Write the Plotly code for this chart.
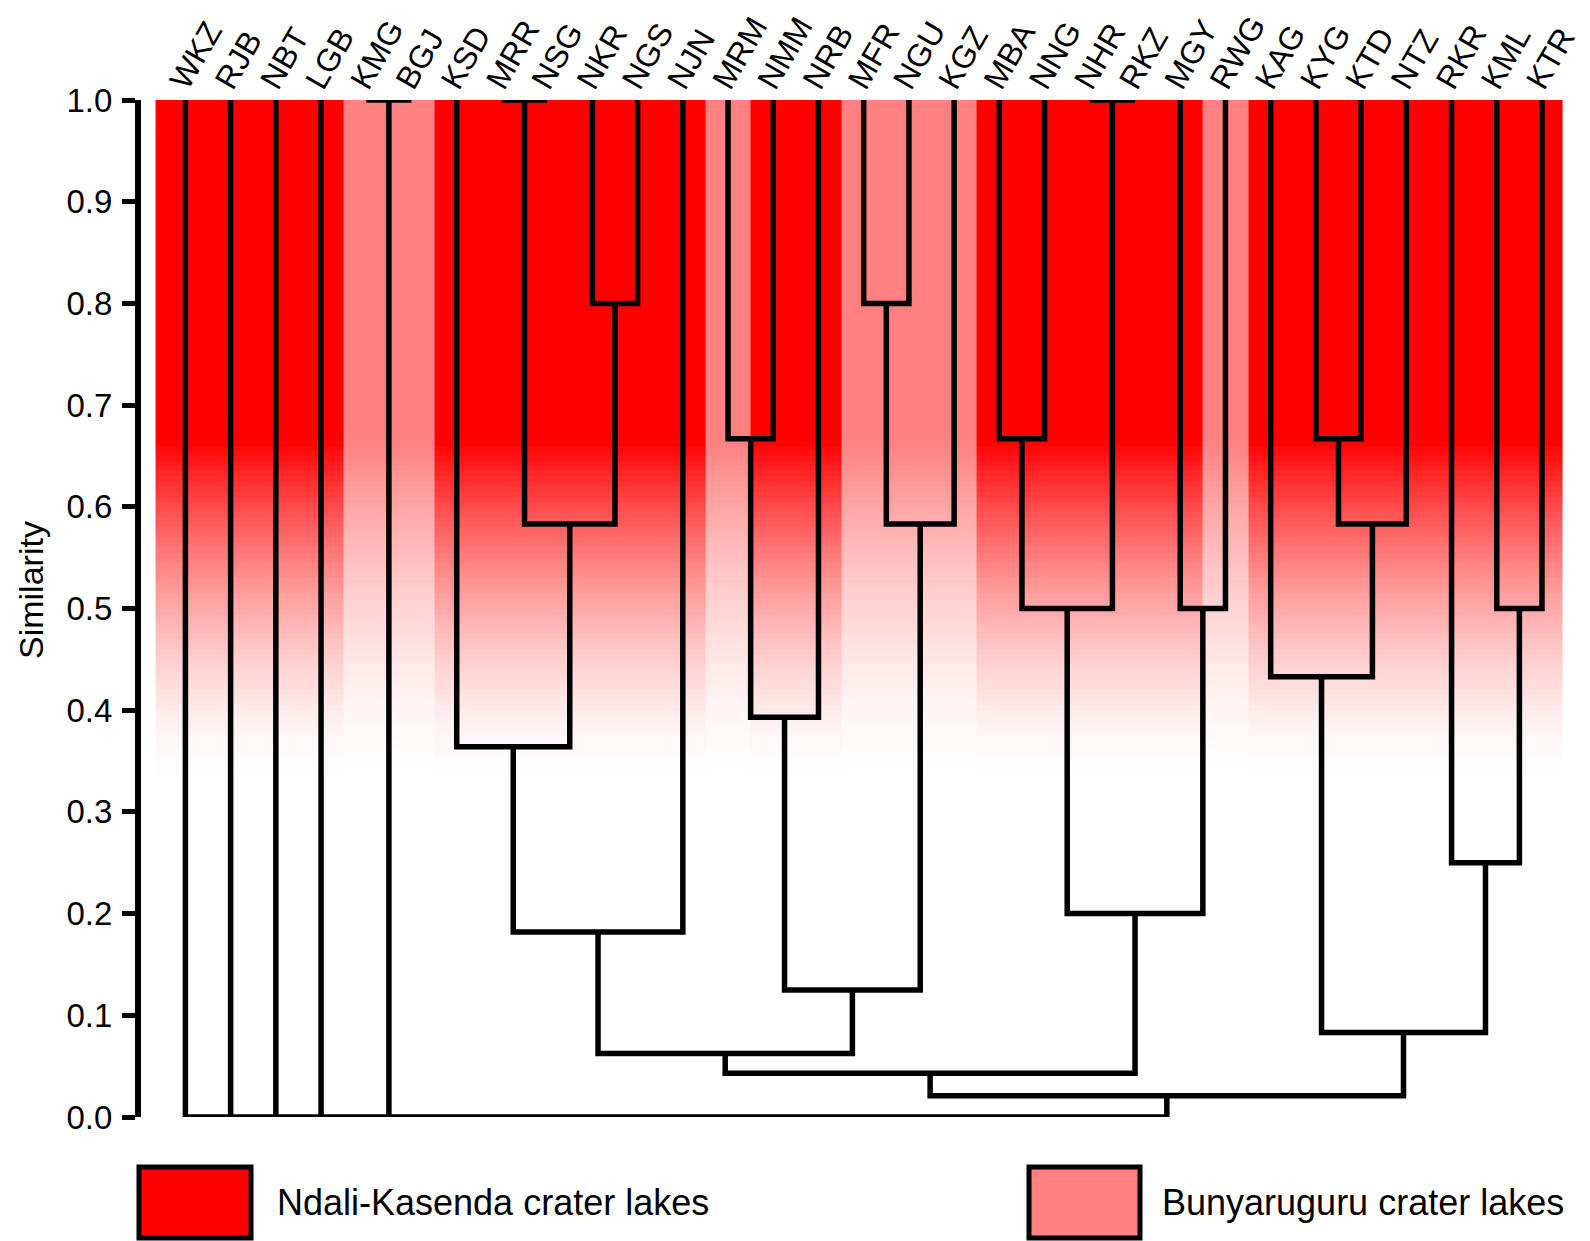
import numpy as np
import plotly.graph_objects as go

# ---------------- data ----------------
leaves = ["WKZ", "RJB", "NBT", "LGB", "KMG", "BGJ", "KSD", "MRR", "NSG", "NKR",
          "NGS", "NJN", "MRM", "NMM", "NRB", "MFR", "NGU", "KGZ", "MBA", "NNG",
          "NHR", "RKZ", "MGY", "RWG", "KAG", "KYG", "KTD", "NTZ", "RKR", "KML", "KTR"]
# region of each lake: "NK" = Ndali-Kasenda, "BU" = Bunyaruguru
leaf_region = ["NK", "NK", "NK", "NK", "BU", "BU", "NK", "NK", "NK", "NK",
               "NK", "NK", "BU", "NK", "NK", "BU", "BU", "BU", "NK", "NK",
               "NK", "NK", "NK", "BU", "NK", "NK", "NK", "NK", "NK", "NK", "NK"]

# binary merges of the dendrogram (similarity at which they join)
node_ids   = ["A", "B", "C", "D", "E", "F", "G", "H", "I", "J", "K", "L", "M",
              "N", "O", "P", "Q", "R", "S", "T", "U", "V", "W", "X", "Y"]
node_left  = ["KMG", "MRR", "NKR", "B", "KSD", "E", "MRM", "G", "MFR", "I", "H", "F", "MBA",
              "NHR", "M", "MGY", "O", "L", "KYG", "S", "KAG", "KML", "RKR", "U", "R"]
node_right = ["BGJ", "NSG", "NGS", "C", "D", "NJN", "NMM", "NRB", "NGU", "KGZ", "J", "K", "NNG",
              "RKZ", "N", "RWG", "P", "Q", "KTD", "NTZ", "T", "KTR", "V", "W", "X"]
node_sim   = [1.0, 1.0, 0.8, 0.583, 0.364, 0.182, 0.667, 0.393, 0.8, 0.583, 0.125, 0.0625, 0.667,
              1.0, 0.5, 0.5, 0.2, 0.043, 0.667, 0.583, 0.433, 0.5, 0.25, 0.083, 0.021]
root_children = ["WKZ", "RJB", "NBT", "LGB", "A", "Y"]
root_sim = 0.0

y_ticks = [0.0, 0.1, 0.2, 0.3, 0.4, 0.5, 0.6, 0.7, 0.8, 0.9, 1.0]
y_ticktext = ["0.0", "0.1", "0.2", "0.3", "0.4", "0.5", "0.6", "0.7", "0.8", "0.9", "1.0"]
legend_labels = ["Ndali-Kasenda crater lakes", "Bunyaruguru crater lakes"]

# ---------------- styles / layout (page pixels) ----------------
RED = "#ff0000"
PINK = "#ff8080"
FONT = "Liberation Sans, Arial, sans-serif"
PAGE_W, PAGE_H = 1590, 1241
BODY = 8                       # default body margin of the html page
W, H = PAGE_W - BODY, PAGE_H - BODY
L_PX, R_PX, T_PX, B_PX = 141, 1572, 100, 1117   # page coords of plot area
LEAF0_PX, STEP_PX = 185.4, 45.22
xmin = -(LEAF0_PX - L_PX) / STEP_PX
xmax = xmin + (R_PX - L_PX) / STEP_PX
LABEL_SHIFT = -0.26            # leaf-label offset (in leaf units)
GRAD_TOP, GRAD_BOT, GRAD_EXP = 0.665, 0.33, 1.6


def px_x(p):
    return (p - L_PX) / (R_PX - L_PX)


def px_y(p):
    return (B_PX - p) / (B_PX - T_PX)


# ---------------- dendrogram geometry ----------------
pos = {name: float(i) for i, name in enumerate(leaves)}
height = {name: 1.0 for name in leaves}
lx, ly = [], []
for nid, a, b, s in zip(node_ids, node_left, node_right, node_sim):
    lx += [pos[a], pos[a], pos[b], pos[b], None]
    ly += [height[a], s, s, height[b], None]
    pos[nid] = (pos[a] + pos[b]) / 2
    height[nid] = s

# root (multi-way join at similarity 0)
for c in root_children:
    lx += [pos[c], pos[c], None]
    ly += [height[c], root_sim, None]
cx = [pos[c] for c in root_children]
lx += [min(cx), max(cx), None]
ly += [root_sim, root_sim, None]

# ---------------- background gradient bands ----------------
x_edges = [-0.66] + [i + 0.5 for i in range(len(leaves) - 1)] + [30.46]
y_edges = np.linspace(0.30, 1.0, 141)
y_mid = (y_edges[:-1] + y_edges[1:]) / 2
t = np.clip((GRAD_TOP - y_mid) / (GRAD_TOP - GRAD_BOT), 0, 1)
inten = (1 - t) ** GRAD_EXP
sign = np.array([1.0 if r == "NK" else -1.0 for r in leaf_region])
z = inten[:, None] * sign[None, :]

fig = go.Figure()
fig.add_trace(go.Heatmap(
    x=x_edges, y=y_edges, z=z, zmin=-1, zmax=1,
    colorscale=[[0, PINK], [0.5, "#ffffff"], [1, RED]],
    showscale=False, hoverinfo="skip"))

fig.add_trace(go.Scatter(
    x=lx, y=ly, mode="lines", line=dict(color="black", width=5.5),
    cliponaxis=False, hoverinfo="skip", showlegend=False))

fig.update_layout(
    width=W, height=H,
    margin=dict(l=L_PX - BODY, r=PAGE_W - R_PX, t=T_PX - BODY, b=PAGE_H - B_PX,
                autoexpand=False, pad=0),
    paper_bgcolor="white", plot_bgcolor="white",
    showlegend=False,
    font=dict(family=FONT, color="black"),
    xaxis=dict(range=[xmin, xmax], side="top", tickmode="array",
               tickvals=[i + LABEL_SHIFT for i in range(len(leaves))], ticktext=leaves,
               tickangle=-60, ticks="", showline=False, showgrid=False,
               zeroline=False, ticklabelstandoff=-7, ticklabeloverflow="allow",
               tickfont=dict(size=32, family=FONT, color="black")),
    yaxis=dict(range=[0, 1], tickmode="array", tickvals=y_ticks, ticktext=y_ticktext,
               ticks="outside", ticklen=13, tickwidth=5, tickcolor="black",
               showline=True, linewidth=6, linecolor="black",
               showgrid=False, zeroline=False, ticklabelstandoff=3,
               tickfont=dict(size=33, family=FONT, color="black")),
)

# y-axis title
fig.add_annotation(text="Similarity", xref="paper", yref="paper",
                   x=px_x(31), y=px_y(590), textangle=-90, showarrow=False,
                   xanchor="center", yanchor="middle", borderpad=0,
                   font=dict(size=34, family=FONT, color="black"))

# legend boxes
legend_boxes = [(139, 251, RED, 275), (1029, 1140, PINK, 1160)]
for (bx0, bx1, col, tx), lab in zip(legend_boxes, legend_labels):
    fig.add_shape(type="rect", xref="paper", yref="paper",
                  x0=px_x(bx0), x1=px_x(bx1), y0=px_y(1238), y1=px_y(1167),
                  fillcolor=col, line=dict(color="black", width=5))
    fig.add_annotation(text=lab, xref="paper", yref="paper",
                       x=px_x(tx), y=px_y(1202), xanchor="left", yanchor="middle",
                       showarrow=False, font=dict(size=36, family=FONT, color="black"))

fig.write_html("out.html")
